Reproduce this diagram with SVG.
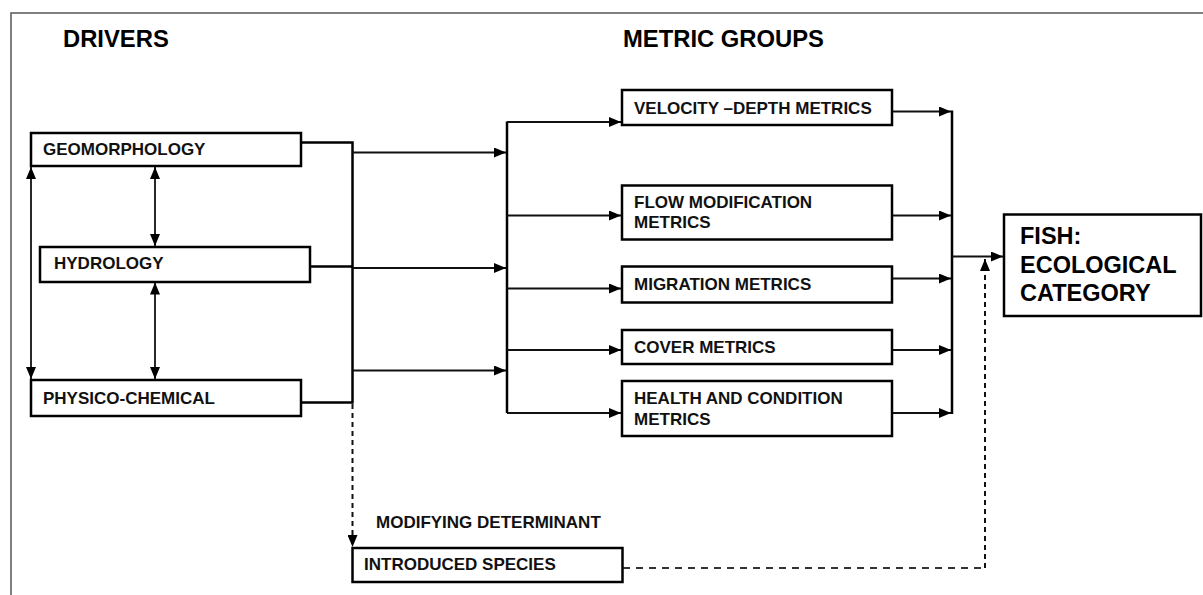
<svg xmlns="http://www.w3.org/2000/svg" width="1203" height="595" viewBox="0 0 1203 595">
<style>
.box{fill:#fff;stroke:#000;stroke-width:2.5}
.t{font-family:"Liberation Sans",Arial,sans-serif;font-weight:bold;font-size:17px;fill:#111}
.h{font-family:"Liberation Sans",Arial,sans-serif;font-weight:bold;font-size:23.8px;fill:#000}
.big{font-family:"Liberation Sans",Arial,sans-serif;font-weight:bold;font-size:23.5px;fill:#000}
.bus{fill:none;stroke:#000;stroke-width:2.5}
.ln{fill:none;stroke:#111;stroke-width:1.8}
.dash{fill:none;stroke:#111;stroke-width:2;stroke-dasharray:5 4}
.dashh{fill:none;stroke:#333;stroke-width:2;stroke-dasharray:7 6}
</style>
<defs>
<marker id="ah" markerUnits="userSpaceOnUse" markerWidth="12" markerHeight="10" refX="12" refY="5" orient="auto-start-reverse">
<path d="M0,0 L12,5 L0,10 z" fill="#000"/>
</marker>
</defs>
<rect width="1203" height="595" fill="#fff"/>
<path d="M11,595 L11,13 L1203,13" fill="none" stroke="#555" stroke-width="1.5"/>
<g id="titles">
<text class="h" x="63" y="47">DRIVERS</text>
<text class="h" x="623" y="47">METRIC GROUPS</text>
<text class="t" x="376" y="527.5">MODIFYING DETERMINANT</text>
</g>
<g id="connectors">
<path class="bus" d="M301,142.5 H352.5 V402.5 H301"/>
<path class="bus" d="M310,266.5 H352.5"/>
<path class="ln" d="M352.5,152.5 H506" marker-end="url(#ah)"/>
<path class="ln" d="M352.5,268 H506" marker-end="url(#ah)"/>
<path class="ln" d="M352.5,370.5 H506" marker-end="url(#ah)"/>
<path class="bus" d="M507,121.5 V413"/>
<path class="ln" d="M507,122 H621" marker-end="url(#ah)"/>
<path class="ln" d="M507,215.5 H621" marker-end="url(#ah)"/>
<path class="ln" d="M507,288.5 H621" marker-end="url(#ah)"/>
<path class="ln" d="M507,350 H621" marker-end="url(#ah)"/>
<path class="ln" d="M507,413 H621" marker-end="url(#ah)"/>
<path class="ln" d="M892,111.5 H951" marker-end="url(#ah)"/>
<path class="ln" d="M892,215.5 H951" marker-end="url(#ah)"/>
<path class="ln" d="M892,278.5 H951" marker-end="url(#ah)"/>
<path class="ln" d="M892,350 H951" marker-end="url(#ah)"/>
<path class="ln" d="M892,413 H951" marker-end="url(#ah)"/>
<path class="bus" d="M952,110.5 V414"/>
<path class="ln" d="M952,256.5 H1003" marker-end="url(#ah)"/>
<path class="ln" d="M31,167 V379" marker-start="url(#ah)" marker-end="url(#ah)"/>
<path class="ln" d="M155,167 V246" marker-start="url(#ah)" marker-end="url(#ah)"/>
<path class="ln" d="M155,282.5 V379" marker-start="url(#ah)" marker-end="url(#ah)"/>
<path class="dash" d="M352.5,404 V547" marker-end="url(#ah)"/>
<path class="dashh" d="M623,568 H985"/>
<path class="dash" d="M985,568 V259" marker-end="url(#ah)"/>
</g>
<g id="geomorphology"><rect class="box" x="31" y="133" width="270" height="33"/><text class="t" x="43" y="155">GEOMORPHOLOGY</text></g>
<g id="hydrology"><rect class="box" x="40" y="247" width="270" height="35"/><text class="t" x="54" y="269">HYDROLOGY</text></g>
<g id="physico-chemical"><rect class="box" x="31" y="380" width="270" height="36"/><text class="t" x="43" y="404">PHYSICO-CHEMICAL</text></g>
<g id="velocity-depth"><rect class="box" x="622" y="90" width="270" height="35"/><text class="t" x="634" y="114">VELOCITY –DEPTH METRICS</text></g>
<g id="flow-modification"><rect class="box" x="622" y="185.5" width="270" height="54"/><text class="t" x="634" y="207.5">FLOW MODIFICATION</text><text class="t" x="634" y="227.5">METRICS</text></g>
<g id="migration"><rect class="box" x="622" y="266.5" width="270" height="36"/><text class="t" x="634" y="289.5">MIGRATION METRICS</text></g>
<g id="cover"><rect class="box" x="622" y="330" width="270" height="34"/><text class="t" x="634" y="352.5">COVER METRICS</text></g>
<g id="health"><rect class="box" x="622" y="381" width="270" height="55"/><text class="t" x="634" y="404">HEALTH AND CONDITION</text><text class="t" x="634" y="424.5">METRICS</text></g>
<g id="introduced-species"><rect class="box" x="352.5" y="548" width="270" height="34"/><text class="t" x="364" y="570">INTRODUCED SPECIES</text></g>
<g id="fish"><rect class="box" x="1004" y="214.5" width="197" height="101.5"/><text class="big" x="1020" y="244">FISH:</text><text class="big" x="1020" y="272.5">ECOLOGICAL</text><text class="big" x="1020" y="300.5">CATEGORY</text></g>
</svg>
